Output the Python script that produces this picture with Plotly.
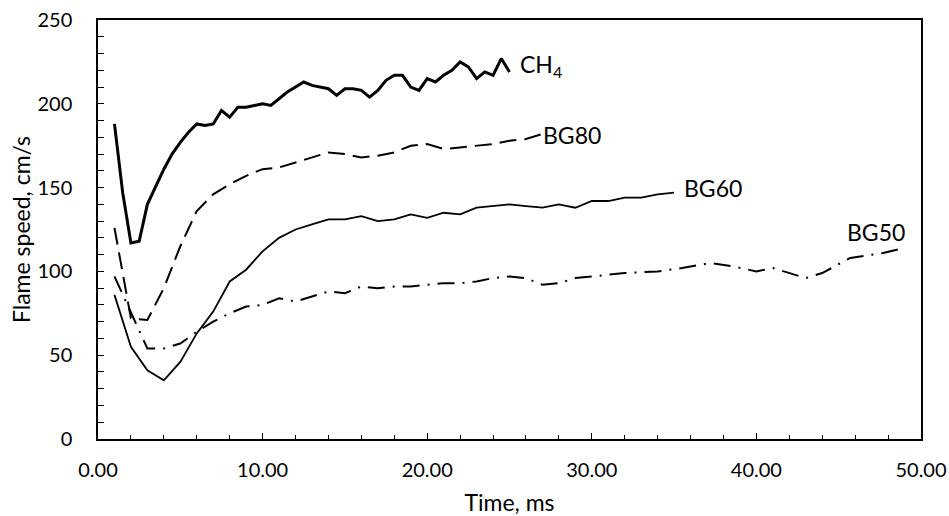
import plotly.graph_objects as go

# flame speed vs time
ch4_t = [1.0, 1.5, 2.0, 2.5, 3.0, 3.5, 4.0, 4.5, 5.0, 5.5, 6.0, 6.5, 7.0, 7.5, 8.0, 8.5, 9.0, 9.5,
         10.0, 10.5, 11.0, 11.5, 12.0, 12.5, 13.0, 13.5, 14.0, 14.5, 15.0, 15.5, 16.0, 16.5, 17.0,
         17.5, 18.0, 18.5, 19.0, 19.5, 20.0, 20.5, 21.0, 21.5, 22.0, 22.5, 23.0, 23.5, 24.0, 24.5, 25.0]
ch4_v = [188, 147, 117, 118, 140, 151, 161, 170, 177, 183, 188, 187, 188, 196, 192, 198, 198, 199,
         200, 199, 203, 207, 210, 213, 211, 210, 209, 205, 209, 209, 208, 204, 208,
         214, 217, 217, 210, 208, 215, 213, 217, 220, 225, 222, 215, 219, 217, 227, 219]

bg80_t = [1, 2, 3, 4, 5, 6, 7, 8, 9, 10, 11, 12, 13, 14, 15, 16, 17, 18, 19, 20, 21, 22, 23, 24, 25, 26, 27]
bg80_v = [126, 72, 71, 90, 115, 136, 146, 152, 157, 161, 162, 165, 168, 171, 170, 168, 169, 171, 175,
          176, 173, 174, 175, 176, 178, 179, 182]

bg60_t = [1, 2, 3, 4, 5, 6, 7, 8, 9, 10, 11, 12, 13, 14, 15, 16, 17, 18, 19, 20, 21, 22, 23, 24, 25,
          26, 27, 28, 29, 30, 31, 32, 33, 34, 35]
bg60_v = [86, 55, 41, 35, 46, 63, 76, 94, 101, 112, 120, 125, 128, 131, 131, 133, 130, 131, 134, 132,
          135, 134, 138, 139, 140, 139, 138, 140, 138, 142, 142, 144, 144, 146, 147]

bg50_t = [1, 2, 3, 4, 5, 6, 7, 8, 9, 10, 11, 12, 13, 14, 15, 16, 17, 18, 19, 20, 21, 22, 23, 24, 25,
          26, 27, 28, 29, 30, 32, 34, 35.5, 37.2, 38.6, 40, 41, 43, 44, 45.7, 47.7, 49]
bg50_v = [97, 76, 54, 54, 57, 64, 70, 75, 79, 80, 84, 82, 85, 88, 87, 91, 90, 91, 91, 92, 93, 93, 94,
          96, 97, 96, 92, 93, 96, 97, 99, 100, 102, 105, 103, 100, 102, 96, 99, 108, 111, 114]

x_ticks = [0, 10, 20, 30, 40, 50]
y_ticks = [0, 50, 100, 150, 200, 250]

FONT = "Lato"

fig = go.Figure()
fig.add_trace(go.Scatter(x=ch4_t, y=ch4_v, mode="lines", name="CH4",
                         line=dict(color="black", width=3)))
fig.add_trace(go.Scatter(x=bg80_t, y=bg80_v, mode="lines", name="BG80",
                         line=dict(color="black", width=2, dash="17px,8px")))
fig.add_trace(go.Scatter(x=bg60_t, y=bg60_v, mode="lines", name="BG60",
                         line=dict(color="black", width=1.8)))
fig.add_trace(go.Scatter(x=bg50_t, y=bg50_v, mode="lines", name="BG50",
                         line=dict(color="black", width=2, dash="17px,8px,2px,8px")))

# curve labels
labels = [("CH<sub>4</sub>", 25.5, 223), ("BG80", 26.9, 181.5), ("BG60", 35.5, 149.5), ("BG50", 45.4, 123.5)]
for txt, lx, ly in labels:
    fig.add_annotation(x=lx, y=ly, text=txt, showarrow=False, xanchor="left", yanchor="middle",
                       font=dict(family=FONT, size=23, color="black"))

fig.update_layout(
    width=949, height=516,
    margin=dict(l=98, r=28, t=20, b=77),
    paper_bgcolor="white", plot_bgcolor="white",
    showlegend=False,
    font=dict(family=FONT, color="black"),
)
fig.update_xaxes(
    range=[0, 50], tickvals=x_ticks, tickformat=".2f",
    ticks="inside", ticklen=6, tickwidth=1.3, tickcolor="black",
    minor=dict(ticks="inside", dtick=2, ticklen=4, tickwidth=1.3, tickcolor="black"),
    showline=True, linecolor="black", linewidth=1.5, mirror=True,
    showgrid=False, zeroline=False, automargin=False, ticklabeloverflow="allow",
    tickfont=dict(family=FONT, size=20), ticklabelstandoff=12,
    title=dict(text="Time, ms", font=dict(family=FONT, size=23), standoff=26),
)
fig.update_yaxes(
    range=[0, 250], tickvals=y_ticks,
    ticks="inside", ticklen=6, tickwidth=1.3, tickcolor="black",
    minor=dict(ticks="inside", dtick=10, ticklen=6, tickwidth=1.3, tickcolor="black"),
    showline=True, linecolor="black", linewidth=1.5, mirror=True,
    showgrid=False, zeroline=False, automargin=False, ticklabeloverflow="allow",
    tickfont=dict(family=FONT, size=20), ticklabelstandoff=20,
    title=dict(text="Flame speed, cm/s", font=dict(family=FONT, size=23), standoff=0),
)

# drop the default 8px body margin so the figure fills the window exactly
fig.write_html("out.html", config={"displayModeBar": False},
               post_script="document.body.style.margin = '0';")
